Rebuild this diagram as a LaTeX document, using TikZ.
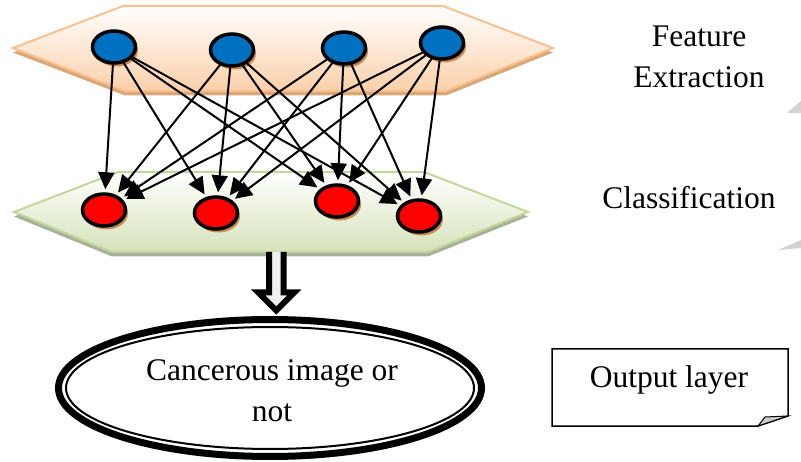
\documentclass[tikz,border=0pt]{standalone}
\usepackage{fontspec}
\setmainfont{Liberation Serif}
\usetikzlibrary{arrows.meta,shapes.geometric,shadows,calc}

\definecolor{peach}{HTML}{FBD0AA}
\definecolor{peachline}{HTML}{FAC090}
\definecolor{peachedge}{HTML}{D8A878}
\definecolor{leaf}{HTML}{D5E3BA}
\definecolor{leafline}{HTML}{C3D69B}
\definecolor{leafedge}{HTML}{A9B19C}
\definecolor{neuronblue}{HTML}{0070C0}
\definecolor{tanshadow}{HTML}{C98B55}

\tikzset{
  neuron/.style={ellipse, draw=black, line width=3.5pt, minimum width=43pt, minimum height=32pt, inner sep=0pt,
    drop shadow={fill=tanshadow, opacity=1, shadow xshift=2.5pt, shadow yshift=-3.5pt}},
  link/.style={line width=2pt, -{Triangle[length=17pt,width=16pt]}, shorten >=3pt},
  lbl/.style={font=\fontsize{31.5}{41}\selectfont, align=center, inner sep=0pt},
  outring/.style={ellipse, draw, line width=7pt, minimum width=423pt, minimum height=137pt, inner sep=0pt},
  blockarrow/.style={line width=6pt, fill=gray!12, draw=black},
}

\begin{document}
\begin{tikzpicture}[x=1pt,y=-1pt]
        \useasboundingbox (0,0) rectangle (801,462);
        \def\featurehex{(13,48) -- (123,6) -- (443,6) -- (553,48) -- (446,91) -- (125,91) -- cycle}
        \def\classhex{(14,212) -- (118,172) -- (424,172) -- (528,212) -- (428,252) -- (112,252) -- cycle}

        % layers with their lower edge
        \begin{scope}[yshift=-4.5pt]
          \fill[peachedge] \featurehex;
          \fill[leafedge] \classhex;
        \end{scope}
        \shade[top color=white, bottom color=peach, draw=peachline, line width=2pt] \featurehex;
        \shade[top color=white, bottom color=leaf, draw=leafline, line width=2pt] \classhex;

        % neurons
        \node[neuron, fill=neuronblue] (b1) at (114,47) {};
        \node[neuron, fill=neuronblue] (b2) at (232,50) {};
        \node[neuron, fill=neuronblue] (b3) at (344,48) {};
        \node[neuron, fill=neuronblue] (b4) at (442,43) {};
        \node[neuron, fill=red] (r1) at (104,210) {};
        \node[neuron, fill=red] (r2) at (216,213) {};
        \node[neuron, fill=red] (r3) at (337,201) {};
        \node[neuron, fill=red] (r4) at (419,216) {};

        % all links
        \draw[link] (b1) -- (r1);
        \draw[link] (b1) -- (r2);
        \draw[link] (b1) -- (r3);
        \draw[link] (b1) -- (r4);
        \draw[link] (b2) -- (r1);
        \draw[link] (b2) -- (r2);
        \draw[link] (b2) -- (r3);
        \draw[link] (b2) -- (r4);
        \draw[link] (b3) -- (r1);
        \draw[link] (b3) -- (r2);
        \draw[link] (b3) -- (r3);
        \draw[link] (b3) -- (r4);
        \draw[link] (b4) -- (r1);
        \draw[link] (b4) -- (r2);
        \draw[link] (b4) -- (r3);
        \draw[link] (b4) -- (r4);

        % output
        \node[outring] (out) at (270,388) {};
        \draw[line width=2pt] (out.center) ellipse (204 and 61);
        \node[lbl] (outtxt) at (272,391) {Cancerous image or\\not};

        \coordinate (gbot) at (276.25,252);
        \coordinate (otop) at (gbot |- out.north);
        \draw[blockarrow] ($(gbot)+(-7.25,0)$) -- ($(otop)+(-7.25,-23.5)$) -- ($(otop)+(-18,-23.5)$)
          -- ($(otop)+(0,-5.5)$) -- ($(otop)+(18,-23.5)$) -- ($(otop)+(7.25,-23.5)$) -- ($(gbot)+(7.25,0)$);

        % side labels
        \node[lbl] (fe) at (699,57) {Feature\\Extraction};
        \node[lbl] (cl) at (689,198) {Classification};
        \node[lbl] (ol) at (669,380) {Output layer};
        \draw[line width=1.5pt] (552,349) -- (788,349) -- (788,416) -- (758,426) -- (552,426) -- cycle;
        \filldraw[fill=gray!40, line width=1pt] (758,426) -- (765,417) -- (788,416) -- cycle;

        \fill[gray!35] (787,113) -- (801,101) -- (801,113) -- cycle;
        \fill[gray!35] (778,250) -- (801,240) -- (801,248) -- cycle;
      \end{tikzpicture}
\end{document}
